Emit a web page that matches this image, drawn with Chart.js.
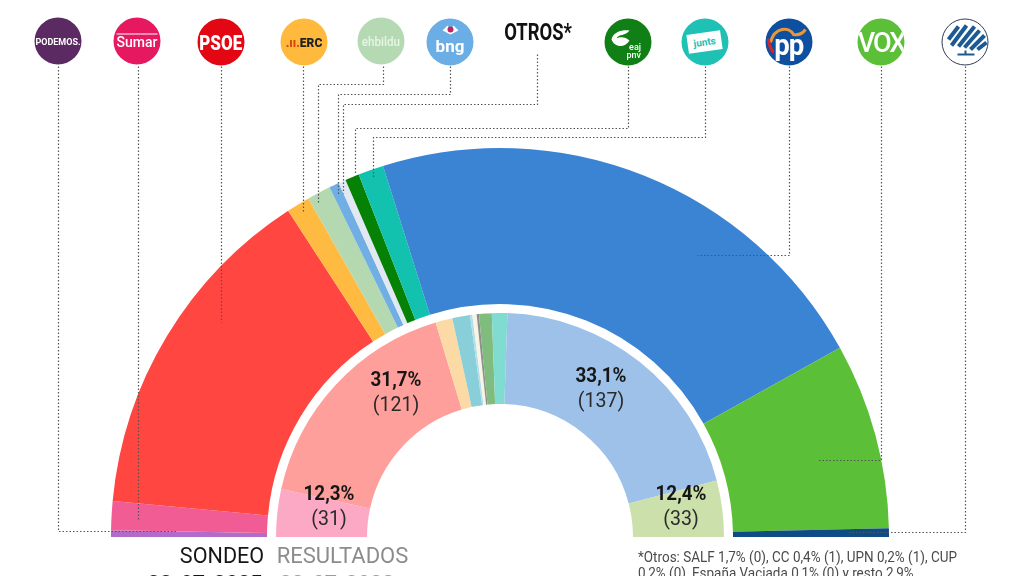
<!DOCTYPE html>
<html lang="es">
<head>
<meta charset="utf-8">
<title>Sondeo elecciones generales</title>
<script src="https://cdn.jsdelivr.net/npm/chart.js@4"></script>
<style>
html, body { margin: 0; padding: 0; background: #fff; overflow: hidden; }
#wrap { position: relative; width: 1024px; height: 576px; overflow: hidden; font-family: Roboto, sans-serif; }
#grafico { position: absolute; left: 0; top: 0; }
.t { position: absolute; white-space: nowrap; line-height: 1; transform: translate(-50%, -50%) scaleX(var(--k, .93)); color: #1c1c1c; }
.logo { position: absolute; width: 47px; height: 47px; border-radius: 50%; transform: translate(-50%, -50%); display: flex; align-items: center; justify-content: center; color: #fff; box-sizing: border-box; overflow: hidden; }
</style>
</head>
<body>
<div id="wrap">
  <canvas id="grafico" width="1024" height="576"></canvas>
</div>
<script>
const partidosSondeo = ['Podemos', 'Sumar', 'PSOE', 'ERC', 'EH Bildu', 'BNG', 'Otros', 'PNV', 'Junts', 'PP', 'Vox', 'Árbol'];
const valoresSondeo = [1.0, 4.3, 51.7, 3.5, 3.5, 1.5, 1.1, 2.1, 3.8, 78.4, 27.8, 1.3];
const coloresSondeo = ['#B36BC9', '#F15C94', '#FF4641', '#FFBA42', '#B4D9B1', '#70AEE3', '#E2E8F2', '#058205', '#12C1AE', '#3B84D4', '#5CBF38', '#0F4C85'];

const partidosResultados = ['Sumar', 'PSOE', 'ERC', 'EH Bildu', 'BNG', 'Otros', 'Gris', 'PNV', 'Junts', 'PP', 'Vox'];
const valoresResultados = [12.4, 60.9, 4.4, 4.6, 0.6, 1.1, 0.6, 3.3, 4.0, 73.5, 14.6];
const coloresResultados = ['#FBA9C5', '#FF9F9C', '#FBDAA5', '#88CFD9', '#B4DCEA', '#F6F4E2', '#8E8E8E', '#80BC7E', '#80DCD1', '#9DC1E9', '#CBE0AA'];

const etiquetasVoto = ['12,3%', '31,7%', '33,1%', '12,4%'];
const etiquetasEscanos = ['(31)', '(121)', '(137)', '(33)'];
const etiquetasX = [329, 396, 601, 681];
const etiquetasY = [493, 379, 375, 493];

const notaOtros = ['*Otros: SALF 1,7% (0), CC 0,4% (1), UPN 0,2% (1), CUP', '0,2% (0), España Vaciada 0,1% (0) y resto 2,9%'];

// lineas punteadas logo -> sector
const guias = [
  [[58, 66], [58, 531], [177, 531]],
  [[138, 66], [138, 519]],
  [[221, 66], [221, 322]],
  [[303, 66], [303, 212]],
  [[383, 66], [383, 84], [318, 84], [318, 203]],
  [[450, 66], [450, 94], [338, 94], [338, 195]],
  [[537, 54], [537, 104], [343, 104], [343, 193]],
  [[628, 66], [628, 128], [355, 128], [355, 173]],
  [[705, 66], [705, 137], [373, 137], [373, 177]],
  [[789, 66], [789, 255], [697, 255]],
  [[881, 66], [881, 460], [818, 460]],
  [[965, 66], [965, 532], [848, 532]]
];

const pluginGuias = {
  id: 'guias',
  afterDraw(chart) {
    const c = chart.ctx;
    c.save();
    c.strokeStyle = '#555';
    c.lineWidth = 1.2;
    c.setLineDash([1.5, 2]);
    guias.forEach(g => {
      c.beginPath();
      g.forEach((p, i) => i ? c.lineTo(p[0] + .5, p[1] + .5) : c.moveTo(p[0] + .5, p[1] + .5));
      c.stroke();
    });
    c.restore();
  }
};

new Chart(document.getElementById('grafico'), {
  type: 'doughnut',
  data: {
    labels: partidosSondeo,
    datasets: [
      { label: 'Sondeo', data: valoresSondeo, backgroundColor: coloresSondeo, borderWidth: 0, weight: 156 },
      { label: 'hueco', data: [1], backgroundColor: ['rgba(0,0,0,0)'], borderWidth: 0, weight: 9 },
      { label: 'Resultados', data: valoresResultados, backgroundColor: coloresResultados, borderWidth: 0, weight: 91 }
    ]
  },
  options: {
    responsive: false,
    animation: false,
    rotation: -90,
    circumference: 180,
    cutout: '34.19%',
    layout: { padding: { left: 111, right: 135, top: 148, bottom: 39 } },
    plugins: { legend: { display: false }, tooltip: { enabled: false } }
  },
  plugins: [pluginGuias]
});

const wrap = document.getElementById('wrap');
function texto(s, x, y, size, weight, color, k) {
  const d = document.createElement('div');
  d.className = 't';
  d.textContent = s;
  d.style.cssText = `left:${x}px;top:${y}px;font-size:${size}px;font-weight:${weight};color:${color};--k:${k}`;
  wrap.appendChild(d);
  return d;
}
etiquetasVoto.forEach((v, i) => {
  texto(v, etiquetasX[i], etiquetasY[i], 20, 700, '#161616', .94);
  texto(etiquetasEscanos[i], etiquetasX[i], etiquetasY[i] + 25, 21, 400, '#2a2a2a', .93);
});
texto('SONDEO', 222, 556, 22, 400, '#151515', .98);
texto('RESULTADOS', 342.5, 556, 22, 400, '#8c8c8c', 1);
texto('28-07-2025', 205, 584, 23, 700, '#151515', .93);
texto('23-07-2023', 337, 584, 23, 700, '#9a9a9a', .93);
notaOtros.forEach((n, i) => {
  const d = texto(n, 638, 558 + i * 16, 14.5, 400, '#4a4a4a', .93);
  d.style.transform = 'translate(0,-50%) scaleX(.93)';
  d.style.transformOrigin = 'left center';
});
texto('OTROS*', 537.5, 32, 23, 700, '#111', .8);

function logo(x, y, fondo, html, extra) {
  const d = document.createElement('div');
  d.className = 'logo';
  d.style.cssText = `left:${x}px;top:${y}px;background:${fondo};${extra || ''}`;
  d.innerHTML = html;
  wrap.appendChild(d);
}
logo(58, 41, '#5B2A63', '<span style="font-size:9px;font-weight:700;white-space:nowrap">PODEMOS.</span>');
logo(137, 41, '#E6185F', '<span style="font-size:14px;font-weight:500;border-top:1px solid #fff;line-height:15px">Sumar</span>');
logo(221, 42, '#E30613', '<span style="font-size:20px;font-weight:900;transform:scaleX(.85)">PSOE</span>');
logo(304, 42, '#FFB93C', '<span style="font-size:12px;font-weight:900;color:#222;white-space:nowrap"><span style="color:#D9480F">.ıı.</span>ERC</span>');
logo(381, 41, '#B5DAB3', '<span style="font-size:13px;font-weight:500;color:#E8F4E6;transform:scaleX(.9)">ehbildu</span>');
logo(450, 42, '#6BAEE6', '<span style="font-size:17px;font-weight:700;margin-top:7px">bng</span><svg style="position:absolute;left:16px;top:5px" width="16" height="12"><path d="M0 7 L5 2 L8 6 L11 2 L16 7 L8 11Z" fill="#fff"/><circle cx="8" cy="6" r="3" fill="#C0255F"/></svg>');
logo(628, 42, '#0F7F16', '<span style="position:absolute;left:22px;top:24px;font-size:9px;font-weight:500;line-height:8px;text-align:right">eaj<br>pnv</span><svg style="position:absolute;left:6px;top:9px" width="20" height="22"><path d="M1 12 C3 3 14 2 19 3 C15 9 8 6 6 11 C11 8 17 11 19 13 C14 21 4 20 1 12Z" fill="#fff"/></svg>');
logo(705, 42, '#1FC1B4', '<span style="background:#fff;color:#1FC1B4;font-size:10px;font-weight:700;padding:4px 6px;transform:rotate(-8deg)">junts</span>');
logo(789, 42, '#0F4FA0', '<svg style="position:absolute;left:0;top:0" width="47" height="47"><path d="M5 24 C9 8 24 8 28 16 C33 17 37 15 40 11" fill="none" stroke="#E8973A" stroke-width="3"/><path d="M3 20 C3 26 5 30 8 34" fill="none" stroke="#D3262B" stroke-width="3"/></svg><span style="font-size:29px;font-weight:700;margin-top:5px;letter-spacing:-1px;transform:scaleX(.95);position:relative">pp</span>');
logo(881, 42, '#5CBF38', '<span style="font-size:27px;font-weight:500;letter-spacing:-2px">VOX</span>');
logo(965, 42, '#fff', '<svg width="47" height="47"><g stroke="#1C5A94" stroke-width="4" fill="none"><path d="M6 21 L16 8"/><path d="M9 27 L24 7"/><path d="M16 28 L32 8"/><path d="M22 29 L37 12"/><path d="M28 31 L42 17"/><path d="M35 31 L44 24"/></g><path d="M15 36 H32 M23 32 V36" stroke="#1C5A94" stroke-width="2"/></svg>', 'border:1.5px solid #2c3c55');
</script>
</body>
</html>
